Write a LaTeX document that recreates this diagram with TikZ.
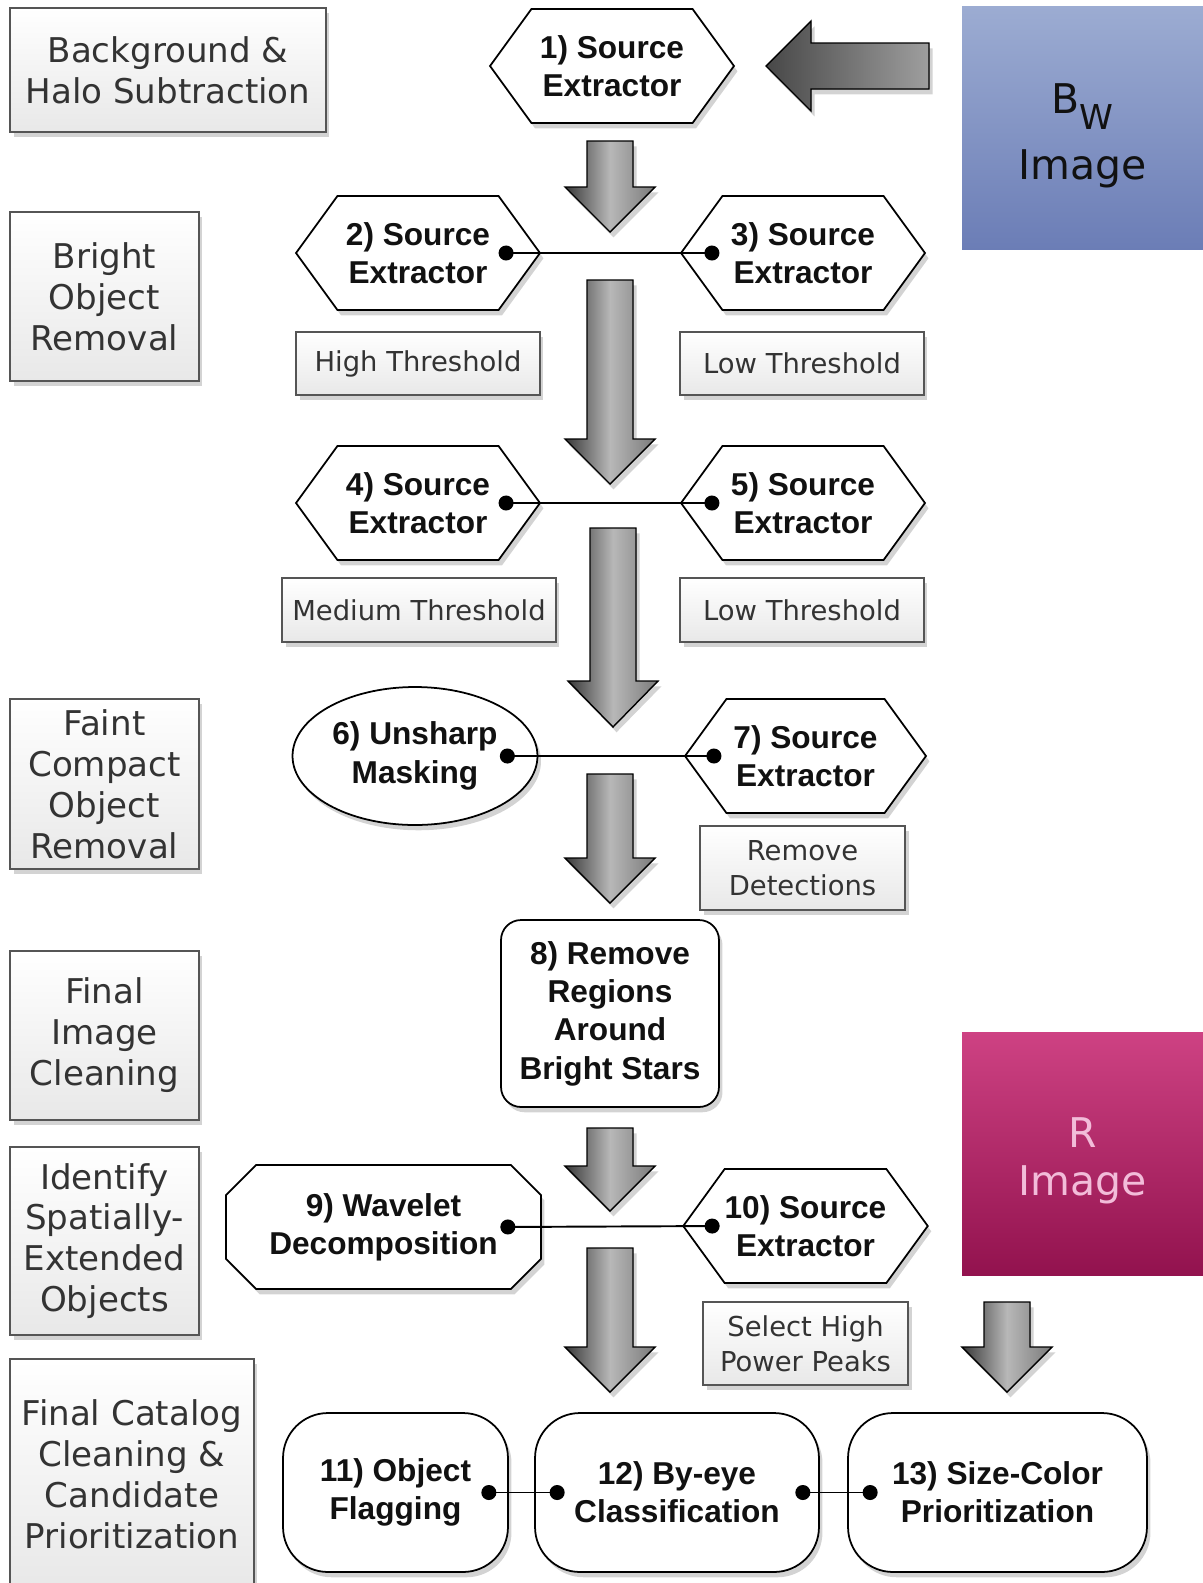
\documentclass[tikz,border=0pt]{standalone}
\usepackage{fontspec}
\setmainfont{Liberation Sans}
\newfontfamily\boxfont{DejaVu Sans}
\usepackage{tikz}
\usetikzlibrary{arrows.meta,shapes.geometric,shapes.symbols,shapes.misc,shadows}
\definecolor{INK}{HTML}{111111}
\definecolor{EDGE}{HTML}{555555}
\definecolor{LABEL}{HTML}{333333}
\definecolor{BWTOP}{HTML}{9CACD2}
\definecolor{BWBOT}{HTML}{6B7DB6}
\definecolor{RTOP}{HTML}{CE4283}
\definecolor{RBOT}{HTML}{92124E}
\definecolor{RTXT}{HTML}{F2BCD9}

\begin{document}
\begin{tikzpicture}[
    x=0.02cm, y=-0.02cm,
    font=\fontsize{18}{21.8}\selectfont\bfseries,
    softshadow/.style={drop shadow={opacity=0.35, shadow xshift=2pt, shadow yshift=-3pt}},
    stage/.style={draw=black, line width=1pt, fill=white, text=INK, align=center, inner sep=0pt, softshadow},
    sex/.style={stage, signal, signal to=east and west, signal pointer angle=108, minimum width=4.88cm, minimum height=2.28cm},
    blob/.style={stage, ellipse, minimum width=4.9cm, minimum height=2.76cm},
    pill/.style={stage, rectangle, rounded corners=0.9cm, minimum height=3.18cm},
    phase/.style={draw=EDGE, line width=0.8pt, top color=white, bottom color=black!9, text=LABEL, align=center, inner sep=0pt,
      font=\boxfont\mdseries\fontsize{19.4}{23.3}\selectfont, softshadow},
    note/.style={phase, font=\boxfont\mdseries\fontsize{15.6}{19.8}\selectfont},
    imagebox/.style={minimum width=4.82cm, minimum height=4.88cm, inner sep=0pt, align=center,
      font=\boxfont\mdseries\fontsize{23.3}{27.2}\selectfont},
    bigarrow/.style={draw=black, line width=0.8pt, left color=black!78, right color=black!52, middle color=black!28, softshadow},
    sidearrow/.style={draw=black, line width=0.8pt, left color=black!72, right color=black!38, softshadow},
    link/.style={{Circle[length=0.3cm]}-{Circle[length=0.3cm]}, line width=1.1pt},
  ]
  \useasboundingbox (0,0) rectangle (1203,1583);

  % ===== phase labels on the left =====
  \node[phase, minimum width=6.32cm, minimum height=2.48cm] (p1) at (168,70) {Background \&\\Halo Subtraction};
  \node[phase, minimum width=3.78cm, minimum height=3.38cm] (p2) at (104.5,296.5) {Bright\\Object\\Removal};
  \node[phase, minimum width=3.78cm, minimum height=3.40cm] (p3) at (104.5,784) {Faint\\Compact\\Object\\Removal};
  \node[phase, minimum width=3.78cm, minimum height=3.38cm] (p4) at (104.5,1035.5) {Final\\Image\\Cleaning};
  \node[phase, minimum width=3.78cm, minimum height=3.76cm] (p5) at (104.5,1241) {Identify\\Spatially-\\Extended\\Objects};
  \node[phase, minimum width=4.88cm, minimum height=4.62cm] (p6) at (132,1474.5) {Final Catalog\\Cleaning \&\\Candidate\\Prioritization};

  % ===== input images =====
  \node[imagebox, top color=BWTOP, bottom color=BWBOT, text=INK] (bw) at (1082.5,128) {};
  \node[font=\boxfont\mdseries\fontsize{23.3}{27.2}\selectfont, text=INK, align=center] at (1082.5,136)
    {B\raisebox{-9pt}{\fontsize{19.5}{19.5}\selectfont W}\\[10pt]Image};
  \node[imagebox, top color=RTOP, bottom color=RBOT, text=RTXT] (rimg) at (1082.5,1154) {};
  \node[font=\boxfont\mdseries\fontsize{23.3}{27.2}\selectfont, text=RTXT, align=center] at (1082.5,1161) {R\\Image};

  % ===== block arrows =====
  \filldraw[sidearrow] (929,43) -- (929,89) -- (811,89) -- (811,111) -- (766,66) -- (811,21) -- (811,43) -- cycle;
  \foreach \x/\ya/\yb/\yc in {610/141/187/232, 610/280/439/484, 613/528/681/727, 610/774/858/903,
                              610/1128/1166/1211, 610/1248/1347/1392, 1007/1302/1347/1392} {
    \filldraw[bigarrow] (\x-23,\ya) -- (\x+23,\ya) -- (\x+23,\yb) -- (\x+45,\yb) -- (\x,\yc)
      -- (\x-45,\yb) -- (\x-23,\yb) -- cycle;
  }

  % ===== pipeline steps =====
  \node[sex] (n1) at (612,66) {1) Source\\Extractor};
  \node[sex] (n2) at (418,253) {2) Source\\Extractor};
  \node[sex] (n3) at (803,253) {3) Source\\Extractor};
  \node[note, minimum width=4.88cm, minimum height=1.26cm] (t2) at (418,363.5) {High Threshold};
  \node[note, minimum width=4.88cm, minimum height=1.26cm] (t3) at (802,363.5) {Low Threshold};

  \node[sex] (n4) at (418,503) {4) Source\\Extractor};
  \node[sex] (n5) at (803,503) {5) Source\\Extractor};
  \node[note, minimum width=5.48cm, minimum height=1.28cm] (t4) at (419,610) {Medium Threshold};
  \node[note, minimum width=4.88cm, minimum height=1.28cm] (t5) at (802,610) {Low Threshold};

  \node[blob] (n6) at (415,756) {6) Unsharp\\Masking};
  \node[sex, minimum width=4.82cm] (n7) at (805.5,756) {7) Source\\Extractor};
  \node[note, minimum width=4.1cm, minimum height=1.68cm] (t7) at (802.5,868) {Remove\\Detections};

  \node[stage, rounded corners=0.4cm, minimum width=4.36cm, minimum height=3.74cm] (n8) at (610,1013.5)
    {8) Remove\\Regions\\Around\\Bright Stars};

  \node[stage, chamfered rectangle, chamfered rectangle xsep=0.3cm, chamfered rectangle ysep=0.3cm,
    minimum width=6.3cm, minimum height=2.48cm] (n9) at (383.5,1227) {9) Wavelet\\Decomposition};
  \node[sex, minimum width=4.82cm] (n10) at (805.5,1226) {10) Source\\Extractor};
  \node[note, minimum width=4.1cm, minimum height=1.66cm] (t10) at (805.5,1343.5) {Select High\\Power Peaks};

  \node[pill, minimum width=4.5cm] (n11) at (395.5,1492.5) {11) Object\\Flagging};
  \node[pill, minimum width=5.68cm] (n12) at (677,1492.5) {12) By-eye\\Classification};
  \node[pill, minimum width=5.98cm] (n13) at (997.5,1492.5) {13) Size-Color\\Prioritization};

  % ===== links =====
  \draw[link] ([xshift=-0.85cm]n2.east) -- ([xshift=0.79cm]n3.west);
  \draw[link] ([xshift=-0.85cm]n4.east) -- ([xshift=0.79cm]n5.west);
  \draw[link] ([xshift=-0.77cm]n6.east) -- ([xshift=0.75cm]n7.west);
  \draw[link] ([xshift=-0.83cm]n9.east) -- ([xshift=0.75cm]n10.west);
  \draw[link] ([xshift=-0.55cm]n11.east) -- ([xshift=0.61cm]n12.west);
  \draw[link] ([xshift=-0.49cm]n12.east) -- ([xshift=0.61cm]n13.west);

\end{tikzpicture}
\end{document}
